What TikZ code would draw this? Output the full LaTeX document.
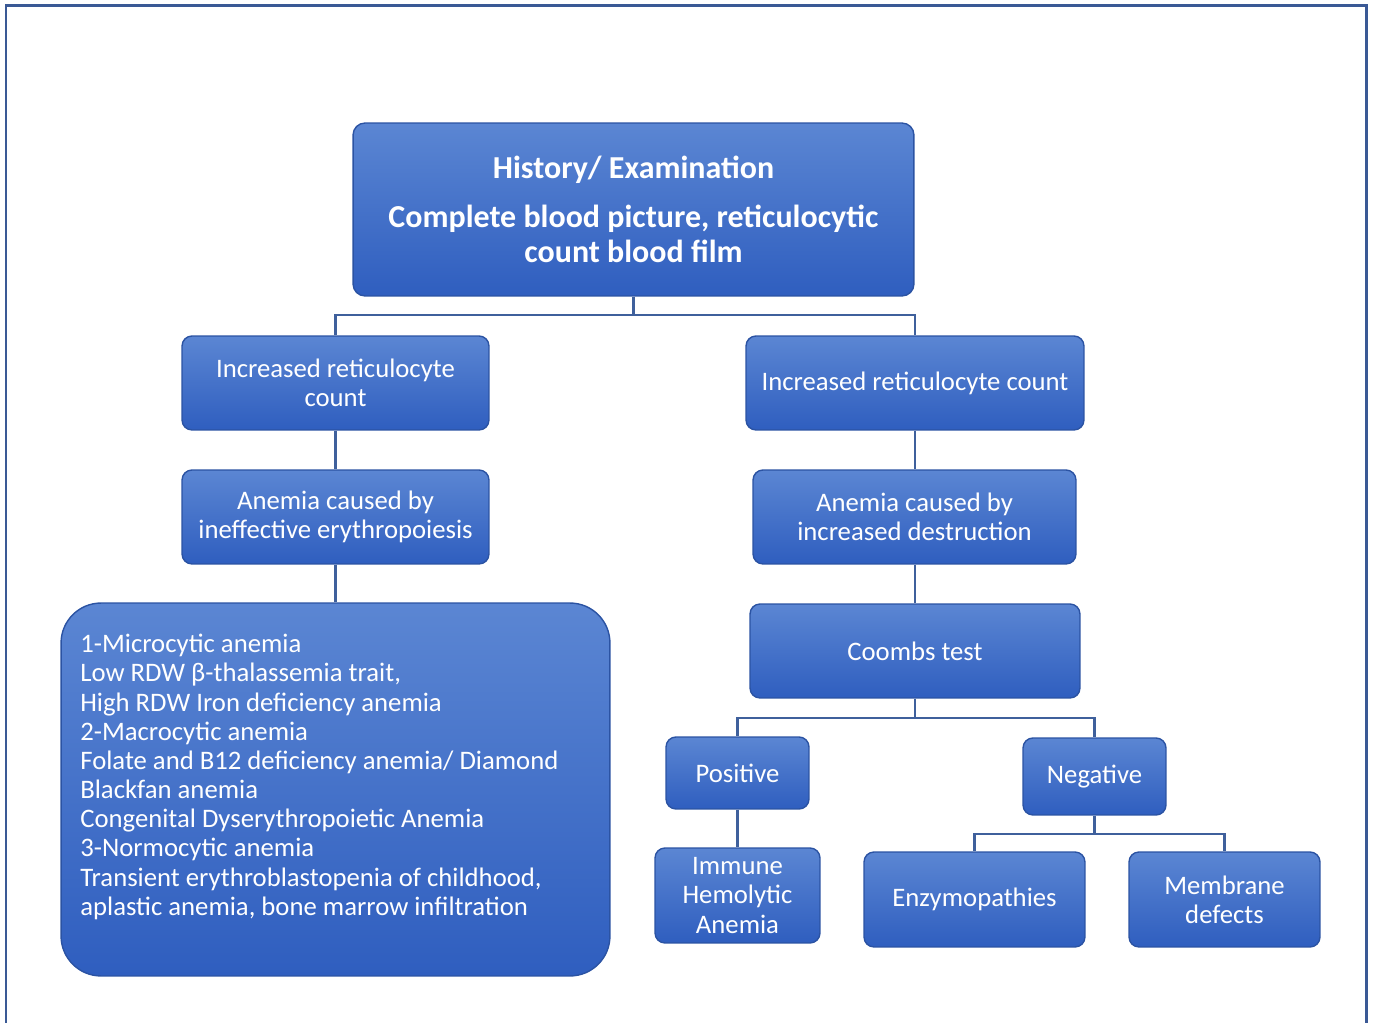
\documentclass[tikz,border=0pt]{standalone}
\usepackage{fontspec}
\setmainfont{Carlito}
\usetikzlibrary{positioning}

\definecolor{boxtop}{HTML}{5B86D3}
\definecolor{boxbot}{HTML}{2F5EBF}
\definecolor{boxedge}{HTML}{2B53A3}
\definecolor{linkcol}{HTML}{3F609C}
\definecolor{framecol}{HTML}{3A5995}

\tikzset{
  box/.style={rectangle, rounded corners=0.2cm, top color=boxtop, bottom color=boxbot,
    draw=boxedge, line width=0.8pt, text=white, align=center, inner sep=0pt,
    font=\fontsize{15.2}{16.6}\selectfont},
  link/.style={draw=linkcol, line width=1.6pt},
}

\begin{document}
\begin{tikzpicture}[x=0.02cm, y=-0.02cm]
\useasboundingbox (0,0) rectangle (1374,1023);
% frame
\draw [framecol, line width=1.7pt] (6,1023) -- (6,6) -- (1366,6) -- (1366,1023);

% boxes
\node [box, rounded corners=0.24cm, minimum width=11.22cm, minimum height=3.46cm,
  font=\bfseries\fontsize{18.2}{19.8}\selectfont] (exam) at (633.5,209.5)
  {History/ Examination\\[8pt] Complete blood picture, reticulocytic\\ count blood film};
\node [box, minimum width=6.14cm, minimum height=1.88cm] (incl) at (335.5,383) {Increased reticulocyte\\ count};
\node [box, minimum width=6.76cm, minimum height=1.88cm] (incr) at (915,383) {Increased reticulocyte count};
\node [box, minimum width=6.14cm, minimum height=1.88cm] (ineff) at (335.5,517) {Anemia caused by\\ ineffective erythropoiesis};
\node [box, minimum width=6.46cm, minimum height=1.88cm] (destr) at (914.5,517) {Anemia caused by\\ increased destruction};
\node [box, rounded corners=0.8cm, minimum width=10.98cm, minimum height=7.46cm] (types) at (335.5,789.5) {};
\node [anchor=north west, inner sep=0pt, text=white, align=left,
  font=\fontsize{15.2}{16.6}\selectfont] (typestext) at (80,634)
  {1-Microcytic anemia\\
   Low RDW β-thalassemia trait,\\
   High RDW Iron deficiency anemia\\
   2-Macrocytic anemia\\
   Folate and B12 deficiency anemia/ Diamond\\
   Blackfan anemia\\
   Congenital Dyserythropoietic Anemia\\
   3-Normocytic anemia\\
   Transient erythroblastopenia of childhood,\\
   aplastic anemia, bone marrow infiltration};
\node [box, minimum width=6.6cm, minimum height=1.88cm] (coombs) at (915,651) {Coombs test};
\node [box, minimum width=2.86cm, minimum height=1.44cm] (pos) at (737.5,773) {Positive};
\node [box, minimum width=2.86cm, minimum height=1.54cm] (neg) at (1094.5,776.5) {Negative};
\node [box, minimum width=3.3cm, minimum height=1.9cm] (immune) at (737.5,895.5) {Immune\\ Hemolytic\\ Anemia};
\node [box, minimum width=4.42cm, minimum height=1.9cm] (enzy) at (974.5,899.5) {Enzymopathies};
\node [box, minimum width=3.82cm, minimum height=1.9cm] (memb) at (1224.5,899.5) {Membrane\\ defects};

% junctions
\coordinate (j1) at (633.5,315);
\coordinate (j2) at (915,718);
\coordinate (j3) at (1094.5,834);

% connectors
\draw [link] (exam.south) -- (j1);
\draw [link] (j1) -| (incl.north);
\draw [link] (j1) -| (incr.north);
\draw [link] (incl.south) -- (ineff.north);
\draw [link] (ineff.south) -- (types.north -| ineff.south);
\draw [link] (incr.south) -- (destr.north -| incr.south);
\draw [link] (destr.south -| coombs.north) -- (coombs.north);
\draw [link] (coombs.south) -- (j2);
\draw [link] (j2) -| (pos.north);
\draw [link] (j2) -| (neg.north);
\draw [link] (pos.south) -- (immune.north);
\draw [link] (neg.south) -- (j3);
\draw [link] (j3) -| (enzy.north);
\draw [link] (j3) -| (memb.north);
\end{tikzpicture}
\end{document}
